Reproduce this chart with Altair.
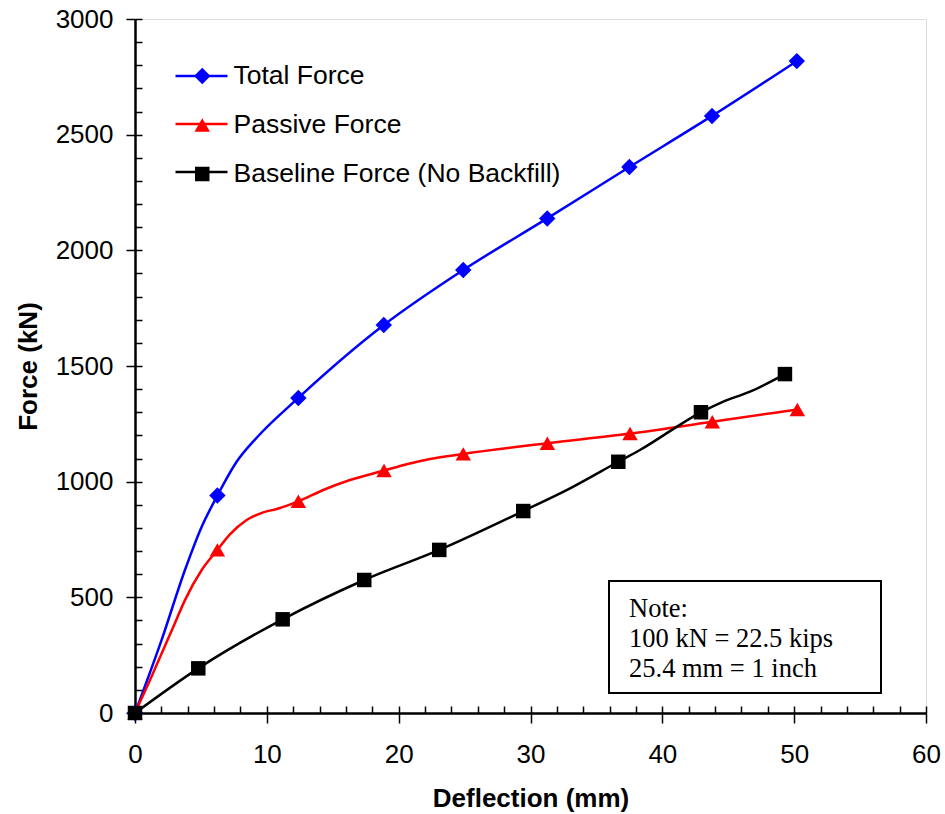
import altair as alt
import pandas as pd

# ---------------- data (deflection in mm, force in kN) ----------------
series_names = ["Total Force", "Passive Force", "Baseline Force (No Backfill)"]
series_keys = ["t", "p", "b"]
series_colors = ["#0000ff", "#ff0000", "#000000"]
series_shapes = ["diamond", "triangle-up", "square"]
marker_sizes = [270, 210, 160]

# smoothed curve traces
total_line_x = [0, 2.02, 3.79, 5.06, 6.25, 7.71, 9.23, 12.39, 18.87, 24.9, 31.27, 37.5, 43.77, 50.2]
total_line_y = [0, 316, 618, 805, 940, 1086, 1190, 1362, 1677, 1915, 2138, 2360, 2581, 2818]
passive_line_x = [0, 1.14, 2.91, 3.79, 5.06, 6.25, 7.2, 8.47, 9.73, 10.75, 12.39, 14.28, 16.31,
                  18.89, 20.61, 22.38, 24.9, 31.28, 37.55, 43.79, 50.24]
passive_line_y = [0, 143, 373, 488, 618, 705, 772, 834, 867, 882, 915, 964, 1007,
                  1048, 1075, 1098, 1120, 1166, 1208, 1259, 1312]
base_line_x = [0, 4.8, 11.2, 17.39, 23.08, 29.45, 33.0, 36.66, 38.3, 42.93, 44.5, 46.65, 49.3]
base_line_y = [0, 193, 405, 575, 705, 873, 971, 1086, 1137, 1300, 1343, 1389, 1465]

# markers
total_mark_x = [0, 6.25, 12.39, 18.87, 24.9, 31.27, 37.5, 43.77, 50.2]
total_mark_y = [0, 940, 1362, 1677, 1915, 2138, 2360, 2581, 2818]
passive_mark_x = [0, 6.25, 12.39, 18.89, 24.9, 31.28, 37.55, 43.79, 50.24]
passive_mark_y = [0, 705, 915, 1048, 1120, 1166, 1208, 1259, 1312]
base_mark_x = [0, 4.8, 11.2, 17.39, 23.08, 29.45, 36.66, 42.93, 49.3]
base_mark_y = [0, 193, 405, 575, 705, 873, 1086, 1300, 1465]

x_major = [0, 10, 20, 30, 40, 50, 60]
x_minor = list(range(0, 61, 2))
y_major = [0, 500, 1000, 1500, 2000, 2500, 3000]
y_minor = list(range(0, 3001, 100))

note_lines = ["Note:", "100 kN = 22.5 kips", "25.4 mm = 1 inch"]

# ---------------- tables ----------------
line_rows = []
for key, xs, ys in zip(series_keys,
                       [total_line_x, passive_line_x, base_line_x],
                       [total_line_y, passive_line_y, base_line_y]):
    for i, (a, b) in enumerate(zip(xs, ys)):
        line_rows.append({"key": key, "defl": a, "force": b, "i": i})
df_line = pd.DataFrame(line_rows)

pt_rows = []
for name, xs, ys in zip(series_names,
                        [total_mark_x, passive_mark_x, base_mark_x],
                        [total_mark_y, passive_mark_y, base_mark_y]):
    for a, b in zip(xs, ys):
        pt_rows.append({"name": name, "defl": a, "force": b})
df_pts = pd.DataFrame(pt_rows)

SANS = "Liberation Sans, Arial, sans-serif"
SERIF = "Liberation Serif, Times New Roman, serif"

xscale = alt.Scale(domain=[0, 60], nice=False, zero=True)
yscale = alt.Scale(domain=[0, 3000], nice=False, zero=True)

main_x_axis = alt.Axis(values=x_major, orient="bottom", tickSize=10, tickWidth=1.5, tickColor="black",
                       domainColor="black", domainWidth=2.5, labelFont=SANS, labelFontSize=26,
                       labelColor="black", labelPadding=18, labelFlush=False, labelOverlap=False,
                       format="d", grid=False, title="Deflection (mm)", titleFont=SANS,
                       titleFontSize=26, titleFontWeight="bold", titleColor="black", titlePadding=18)
main_y_axis = alt.Axis(values=y_major, orient="left", tickSize=9, tickWidth=1.5, tickColor="black",
                       domainColor="black", domainWidth=2.5, labelFont=SANS, labelFontSize=26,
                       labelColor="black", labelPadding=13, labelFlush=False, labelOverlap=False,
                       format="d", grid=False, title="Force (kN)", titleFont=SANS, titleFontSize=26,
                       titleFontWeight="bold", titleColor="black", titlePadding=14)
inner_x_axis = alt.Axis(values=x_minor, orient="bottom", offset=-7, tickSize=7, tickWidth=1.5,
                        tickColor="black", domain=False, labels=False, grid=False, title=None)
inner_y_axis = alt.Axis(values=y_minor, orient="left", offset=-7, tickSize=7, tickWidth=1.5,
                        tickColor="black", domain=False, labels=False, grid=False, title=None)

line_legend = alt.Legend(orient="none", legendX=39, legendY=44, title=None, padding=0,
                         symbolType="stroke", symbolSize=2704, symbolStrokeWidth=2.5,
                         labelExpr="''", labelFontSize=26, labelFont=SANS, rowPadding=22,
                         clipHeight=26)
pt_legend = alt.Legend(orient="none", legendX=54, legendY=44, title=None, padding=0,
                       labelFontSize=26.5, labelFont=SANS, labelColor="black", labelOffset=18,
                       rowPadding=22, symbolStrokeWidth=0, labelLimit=500, clipHeight=26)

lines = alt.Chart(df_line).mark_line(interpolate="monotone", strokeWidth=2.5).encode(
    x=alt.X("defl:Q", scale=xscale, axis=main_x_axis),
    y=alt.Y("force:Q", scale=yscale, axis=main_y_axis),
    stroke=alt.Stroke("key:N", scale=alt.Scale(domain=series_keys, range=series_colors),
                      legend=line_legend),
    order="i:Q",
)

points = alt.Chart(df_pts).mark_point(filled=True, opacity=1).encode(
    x=alt.X("defl:Q", scale=xscale, axis=inner_x_axis),
    y=alt.Y("force:Q", scale=yscale, axis=inner_y_axis),
    color=alt.Color("name:N", scale=alt.Scale(domain=series_names, range=series_colors),
                    legend=pt_legend),
    shape=alt.Shape("name:N", scale=alt.Scale(domain=series_names, range=series_shapes),
                    legend=pt_legend),
    size=alt.Size("name:N", scale=alt.Scale(domain=series_names, range=marker_sizes),
                  legend=pt_legend),
)

note_df = pd.DataFrame({"a": [0]})
note_box = alt.Chart(note_df).mark_rect(fill="white", stroke="black", strokeWidth=2).encode(
    x=alt.value(474), x2=alt.value(746), y=alt.value(562), y2=alt.value(674)
)
note_text = alt.Chart(note_df).mark_text(
    align="left", baseline="alphabetic", font=SERIF, fontSize=26.5, lineHeight=30, color="black"
).encode(x=alt.value(494), y=alt.value(598), text=alt.value(note_lines))

chart = alt.layer(lines, points, note_box, note_text).resolve_axis(
    x="independent", y="independent"
).properties(
    width=791, height=694,
    autosize=alt.AutoSizeParams(type="none"),
    padding={"left": 135, "top": 19, "right": 19, "bottom": 101},
).configure_view(stroke="black", strokeWidth=2.5).configure(background="white")

chart.save("out.html", embed_options={"renderer": "svg", "actions": False})
